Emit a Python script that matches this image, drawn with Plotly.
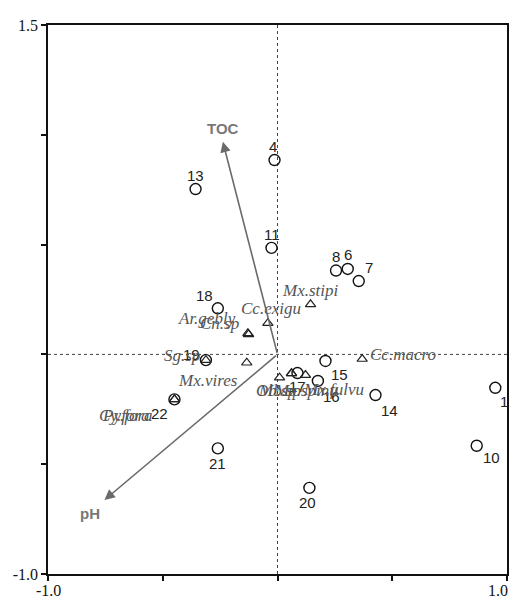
import plotly.graph_objects as go

# ---------------- data ----------------
site_names = ["1", "4", "6", "7", "8", "10", "11", "13", "14", "15", "16",
              "17", "18", "19", "20", "21", "22"]
site_x = [0.949, -0.013, 0.306, 0.354, 0.255, 0.868, -0.026, -0.357, 0.427,
          0.209, 0.176, 0.087, -0.260, -0.312, 0.139, -0.260, -0.449]
site_y = [-0.152, 0.885, 0.389, 0.334, 0.382, -0.416, 0.485, 0.753, -0.185,
          -0.030, -0.121, -0.085, 0.210, -0.026, -0.608, -0.428, -0.205]

species_names = ["Mx.stipi", "Cc.exigu", "Ar.gebly", "Cn.sp", "Sg.sp", "Mx.vires",
                 "Ob.sp", "Mb.sp", "Mx.spinu", "Mx.fulvu", "Cc.macro",
                 "Cy.fora", "Py.fora"]
species_x = [0.144, -0.042, -0.129, -0.126, -0.312, -0.134,
             0.009, 0.061, 0.061, 0.122, 0.369, -0.449, -0.449]
species_y = [0.228, 0.142, 0.096, 0.091, -0.026, -0.038,
             -0.106, -0.086, -0.086, -0.094, -0.021, -0.205, -0.205]

env_names = ["TOC", "pH"]
env_x = [-0.238, -0.754]
env_y = [0.968, -0.663]

x_ticks = [-1.0, -0.5, 0.0, 0.5, 1.0]
x_end_labels = ["-1.0", "1.0"]
x_end_values = [-1.0, 1.0]
y_ticks = [-1.0, -0.5, 0.0, 0.5, 1.0, 1.5]
y_ticktext = ["-1.0", "", "", "", "", "1.5"]

# ---------------- label offsets (pixels, style) ----------------
site_off = {"1": (9, -14), "4": (-2, 14), "6": (0, 14), "7": (10, 14), "8": (0, 14),
            "10": (15, -12), "11": (0, 13), "13": (0, 14), "14": (14, -15),
            "15": (14, -14), "16": (14, -16), "17": (0, -13), "18": (-13, 13),
            "19": (-14, 6), "20": (-2, -15), "21": (0, -15), "22": (-15, -14)}
sp_off = {"Mx.stipi": (0, 14), "Cc.exigu": (3, 15), "Ar.gebly": (-41, 15),
          "Cn.sp": (-29, 11), "Sg.sp": (-24, 5), "Mx.vires": (-39, -18),
          "Ob.sp": (-4, -13), "Mb.sp": (-12, -17), "Mx.spinu": (14, -17),
          "Mx.fulvu": (28, -14), "Cc.macro": (41, 5), "Cy.fora": (-50, -16),
          "Py.fora": (-47, -16)}
env_off = {"TOC": (0, 13), "pH": (-14, -14)}
xlab_shift = [0, -9]

fig = go.Figure()

# dotted zero lines
fig.add_shape(type="line", x0=-1, x1=1, y0=0, y1=0, xref="x", yref="y",
              line=dict(color="#444", width=1, dash="dot"), layer="below")
fig.add_shape(type="line", x0=0, x1=0, y0=-1, y1=1.5, xref="x", yref="y",
              line=dict(color="#444", width=1, dash="dot"), layer="below")

# sites
fig.add_trace(go.Scatter(
    x=site_x, y=site_y, mode="markers",
    marker=dict(symbol="circle-open", size=11, color="#111", line=dict(width=1.4)),
    hovertext=site_names, showlegend=False))

# species
fig.add_trace(go.Scatter(
    x=species_x, y=species_y, mode="markers",
    marker=dict(symbol="triangle-up-open", size=9, color="#222", line=dict(width=1.2)),
    hovertext=species_names, showlegend=False))

annotations = []
for n, x, y in zip(site_names, site_x, site_y):
    dx, dy = site_off[n]
    annotations.append(dict(x=x, y=y, xref="x", yref="y", text=n, showarrow=False,
                            xshift=dx, yshift=dy,
                            font=dict(family="Liberation Sans, Arial", size=15, color="#222")))
for n, x, y in zip(species_names, species_x, species_y):
    dx, dy = sp_off[n]
    annotations.append(dict(x=x, y=y, xref="x", yref="y", text="<i>" + n + "</i>",
                            showarrow=False, xshift=dx, yshift=dy,
                            font=dict(family="Liberation Serif, Times New Roman", size=17,
                                      color="#555")))
for n, x, y in zip(env_names, env_x, env_y):
    annotations.append(dict(x=x, y=y, xref="x", yref="y", ax=0, ay=0,
                            axref="x", ayref="y", text="", showarrow=True,
                            arrowhead=2, arrowsize=1.3, arrowwidth=1.6, arrowcolor="#6a6a6a"))
    dx, dy = env_off[n]
    annotations.append(dict(x=x, y=y, xref="x", yref="y", text="<b>" + n + "</b>",
                            showarrow=False, xshift=dx, yshift=dy,
                            font=dict(family="Liberation Sans, Arial", size=15, color="#777")))
for t, v, s in zip(x_end_labels, x_end_values, xlab_shift):
    annotations.append(dict(x=v, y=0, xref="x", yref="paper", text=t, showarrow=False,
                            yanchor="top", yshift=-6, xshift=s,
                            font=dict(family="Liberation Serif, Times New Roman", size=16,
                                      color="#111")))

fig.update_layout(
    width=510, height=595,
    margin=dict(l=40, r=11, t=17, b=29),
    paper_bgcolor="white", plot_bgcolor="white",
    annotations=annotations,
    xaxis=dict(range=[-1, 1], tickvals=x_ticks, showticklabels=False, automargin=False,
               showgrid=False, zeroline=False, showline=True, linecolor="#111",
               linewidth=1.5, mirror=True, ticks="outside", ticklen=5, tickwidth=1.5,
               tickcolor="#111"),
    yaxis=dict(range=[-1, 1.5], tickvals=y_ticks, ticktext=y_ticktext, automargin=False,
               showgrid=False, zeroline=False, showline=True, linecolor="#111",
               linewidth=1.5, mirror=True, ticks="outside", ticklen=5, tickwidth=1.5,
               tickcolor="#111",
               tickfont=dict(family="Liberation Serif, Times New Roman", size=16, color="#111")),
)

fig.write_html("out.html")
